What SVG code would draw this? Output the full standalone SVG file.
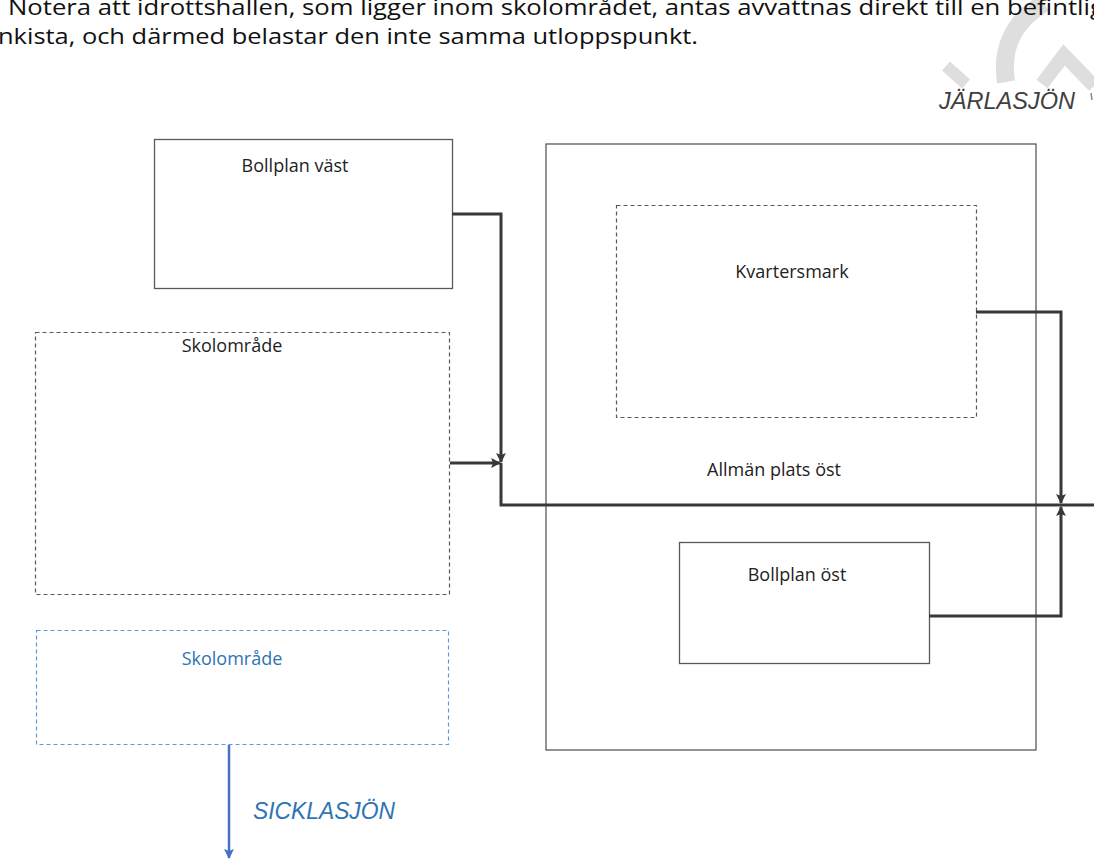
<svg xmlns="http://www.w3.org/2000/svg" width="1094" height="859" viewBox="0 0 1094 859">
<style>
.box{fill:#fff;stroke:#595959;stroke-width:1.3}
.dbox{fill:none;stroke:#595959;stroke-width:1.2;stroke-dasharray:4 3}
.bdbox{fill:none;stroke:#5b9bd5;stroke-width:1.2;stroke-dasharray:4 3}
.lbl{font-family:"Open Sans","Liberation Sans",Arial,sans-serif;font-size:18px;fill:#222;text-anchor:middle}
.blbl{font-family:"Open Sans","Liberation Sans",Arial,sans-serif;font-size:18px;fill:#2e74b5;text-anchor:middle}
.con{fill:none;stroke:#383838;stroke-width:3}
.note{font-family:"Open Sans","Liberation Sans",Arial,sans-serif;font-size:22px;fill:#111}
.lake{font-family:"Liberation Sans",Arial,sans-serif;font-size:24px;font-style:italic}
.wm{fill:none;stroke:#dedede}
</style>
<defs>
<marker id="ah" viewBox="0 0 10 10" refX="9" refY="5" markerWidth="3.5" markerHeight="3.3" orient="auto" markerUnits="strokeWidth">
<path d="M0,0 L10,5 L0,10 L2,5 z" fill="#383838"/>
</marker>
<marker id="ahb" viewBox="0 0 10 10" refX="9" refY="5" markerWidth="4" markerHeight="4" orient="auto" markerUnits="strokeWidth">
<path d="M0,0 L10,5 L0,10 L2,5 z" fill="#4472c4"/>
</marker>
</defs>

<g id="watermark">
<path class="wm" stroke-width="18" d="M1006,82 C1001,50 1012,22 1044,3"/>
<path class="wm" stroke-width="14" d="M1042,84 L1064,55 L1094,86"/>
<path class="wm" stroke-width="12" d="M946,66 L966,84"/>
</g>

<g id="note">
<text class="note" x="8" y="15" textLength="1096" lengthAdjust="spacingAndGlyphs">Notera att idrottshallen, som ligger inom skolområdet, antas avvattnas direkt till en befintlig</text>
<text class="note" x="-2" y="44" textLength="700" lengthAdjust="spacingAndGlyphs">nkista, och därmed belastar den inte samma utloppspunkt.</text>
</g>

<g id="jarlasjon">
<text class="lake" x="939" y="109" fill="#404040" textLength="136" lengthAdjust="spacingAndGlyphs">JÄRLASJÖN</text>
<line x1="1091" y1="93" x2="1092" y2="100" stroke="#888" stroke-width="1.5"/>
</g>

<g id="allman-plats-ost">
<rect class="box" x="546" y="144" width="490" height="606"/>
<text class="lbl" x="774" y="476">Allmän plats öst</text>
</g>

<g id="bollplan-vast">
<rect class="box" x="154.5" y="139.5" width="298" height="149"/>
<text class="lbl" x="295" y="172">Bollplan väst</text>
</g>

<g id="skolomrade">
<rect class="dbox" x="35.5" y="332.5" width="414" height="262"/>
<text class="lbl" x="232" y="352">Skolområde</text>
</g>

<g id="skolomrade-blue">
<rect class="bdbox" x="36.5" y="630.5" width="412" height="114"/>
<text class="blbl" x="232" y="665">Skolområde</text>
</g>

<g id="kvartersmark">
<rect class="dbox" x="616.5" y="205.5" width="360" height="212"/>
<text class="lbl" x="792" y="278">Kvartersmark</text>
</g>

<g id="bollplan-ost">
<rect class="box" x="679.5" y="542.5" width="250" height="121"/>
<text class="lbl" x="797" y="581">Bollplan öst</text>
</g>

<g id="connectors">
<path class="con" d="M452,214 H501 V462" marker-end="url(#ah)"/>
<path class="con" d="M450,463 H500" marker-end="url(#ah)"/>
<path class="con" d="M501,463 V505 H1094"/>
<path class="con" d="M976,312 H1061 V503" marker-end="url(#ah)"/>
<path class="con" d="M929,616 H1061 V507" marker-end="url(#ah)"/>
<path fill="none" stroke="#4472c4" stroke-width="2.5" d="M229,745 V858" marker-end="url(#ahb)"/>
</g>

<g id="sicklasjon">
<text class="lake" x="253" y="819" fill="#2e74b5" textLength="142" lengthAdjust="spacingAndGlyphs">SICKLASJÖN</text>
</g>
</svg>
